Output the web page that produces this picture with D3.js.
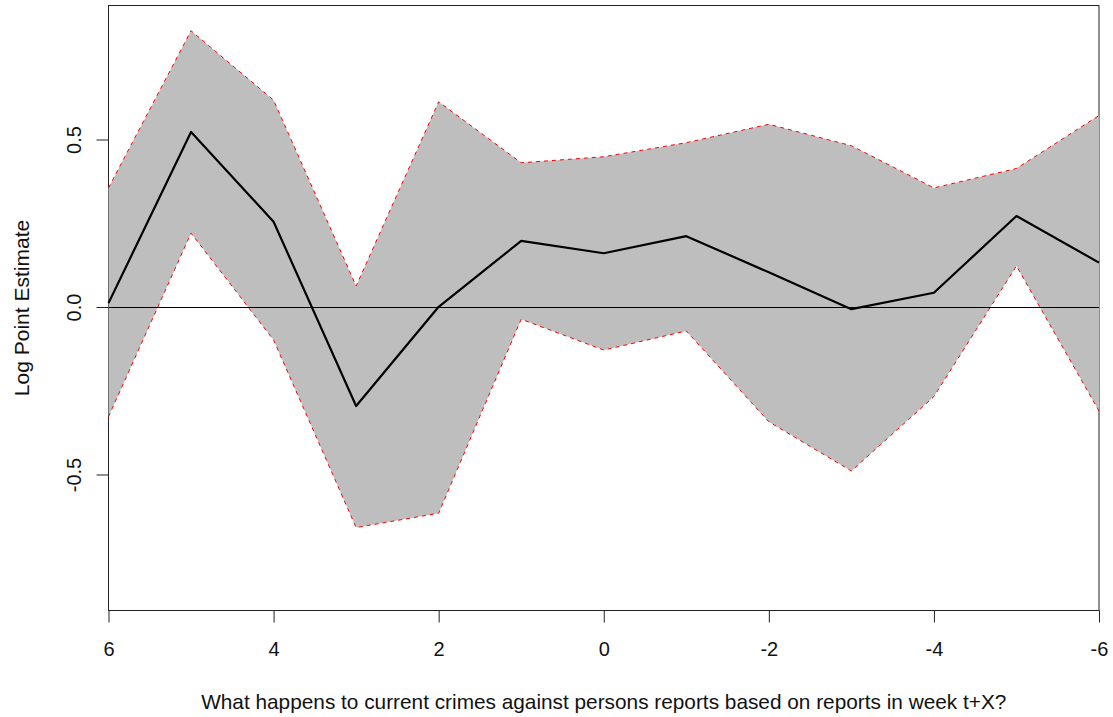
<!DOCTYPE html>
<html>
<head>
<meta charset="utf-8">
<script src="https://cdn.jsdelivr.net/npm/d3@7"></script>
<style>
  body { margin: 0; background: #fff; }
  svg { display: block; }
  text { font-family: "Liberation Sans", Arial, sans-serif; fill: #111; }
</style>
</head>
<body>
<div id="chart"></div>
<script>
// week offsets (t+X) and estimates
const weeks = [6, 5, 4, 3, 2, 1, 0, -1, -2, -3, -4, -5, -6];
const estimate = [0.013, 0.524, 0.256, -0.294, 0.002, 0.199, 0.162, 0.213, 0.105, -0.005, 0.044, 0.273, 0.134];
const upper = [0.357, 0.826, 0.619, 0.064, 0.614, 0.432, 0.450, 0.492, 0.547, 0.483, 0.357, 0.415, 0.573];
const lower = [-0.326, 0.222, -0.097, -0.657, -0.614, -0.035, -0.127, -0.070, -0.341, -0.488, -0.266, 0.124, -0.309];

const xTicks = [6, 4, 2, 0, -2, -4, -6];
const yTicks = [-0.5, 0, 0.5];

const width = 1113;
const height = 717;
const box = { left: 108.5, right: 1099, top: 5.5, bottom: 610.5 };

const x = d3.scaleLinear().domain([6, -6]).range([box.left, box.right]);
const y = d3.scaleLinear().domain([-0.9045, 0.9015]).range([box.bottom, box.top]);

const svg = d3.select("#chart").append("svg")
  .attr("width", width)
  .attr("height", height);

// box round the plot region
svg.append("rect")
  .attr("x", box.left).attr("y", box.top)
  .attr("width", box.right - box.left).attr("height", box.bottom - box.top)
  .attr("fill", "none").attr("stroke", "#222").attr("stroke-width", 1);

const rows = weeks.map((w, i) => ({ w: w, est: estimate[i], hi: upper[i], lo: lower[i] }));

// confidence band
const band = d3.area()
  .x(d => x(d.w))
  .y0(d => y(d.lo))
  .y1(d => y(d.hi));

svg.append("path")
  .attr("d", band(rows))
  .attr("fill", "#bebebe");

const line = d3.line().x(d => x(d[0])).y(d => y(d[1]));

// dashed red borders of the band
[upper, lower].forEach(arr => {
  svg.append("path")
    .attr("d", line(weeks.map((w, i) => [w, arr[i]])))
    .attr("fill", "none")
    .attr("stroke", "#ff0000")
    .attr("stroke-width", 1)
    .attr("stroke-dasharray", "4,4");
});

// point estimate
svg.append("path")
  .attr("d", line(weeks.map((w, i) => [w, estimate[i]])))
  .attr("fill", "none")
  .attr("stroke", "#000")
  .attr("stroke-width", 2.2)
  .attr("stroke-linejoin", "round");

// zero line
svg.append("line")
  .attr("x1", box.left).attr("x2", box.right)
  .attr("y1", y(0)).attr("y2", y(0))
  .attr("stroke", "#000").attr("stroke-width", 1.2);

// x axis
const xAxis = d3.axisBottom(x).tickValues(xTicks).tickSize(12).tickPadding(19)
  .tickFormat(d => d3.format("d")(d).replace("−", "-"));
const gx = svg.append("g").attr("transform", `translate(0,${box.bottom})`).call(xAxis);
gx.select(".domain").remove();
gx.selectAll(".tick line").attr("stroke", "#222");
gx.selectAll(".tick text").attr("font-size", 20).attr("font-family", "Liberation Sans, Arial, sans-serif").attr("fill", "#111");

// y axis, labels rotated as in base R
const gy = svg.append("g").attr("transform", `translate(${box.left},0)`);
gy.selectAll("line.tk").data(yTicks).enter().append("line")
  .attr("class", "tk")
  .attr("x1", -12).attr("x2", 0)
  .attr("y1", d => y(d)).attr("y2", d => y(d))
  .attr("stroke", "#222");
gy.selectAll("text.tl").data(yTicks).enter().append("text")
  .attr("class", "tl")
  .attr("transform", d => `translate(-28,${y(d)}) rotate(-90)`)
  .attr("text-anchor", "middle")
  .attr("font-size", 20)
  .text(d => d3.format(".1f")(d).replace("−", "-"));

// axis titles
svg.append("text")
  .attr("x", (box.left + box.right) / 2).attr("y", 709)
  .attr("text-anchor", "middle").attr("font-size", 20.8)
  .text("What happens to current crimes against persons reports based on reports in week t+X?");

svg.append("text")
  .attr("transform", `translate(29,${(box.top + box.bottom) / 2}) rotate(-90)`)
  .attr("text-anchor", "middle").attr("font-size", 21)
  .text("Log Point Estimate");
</script>
</body>
</html>
